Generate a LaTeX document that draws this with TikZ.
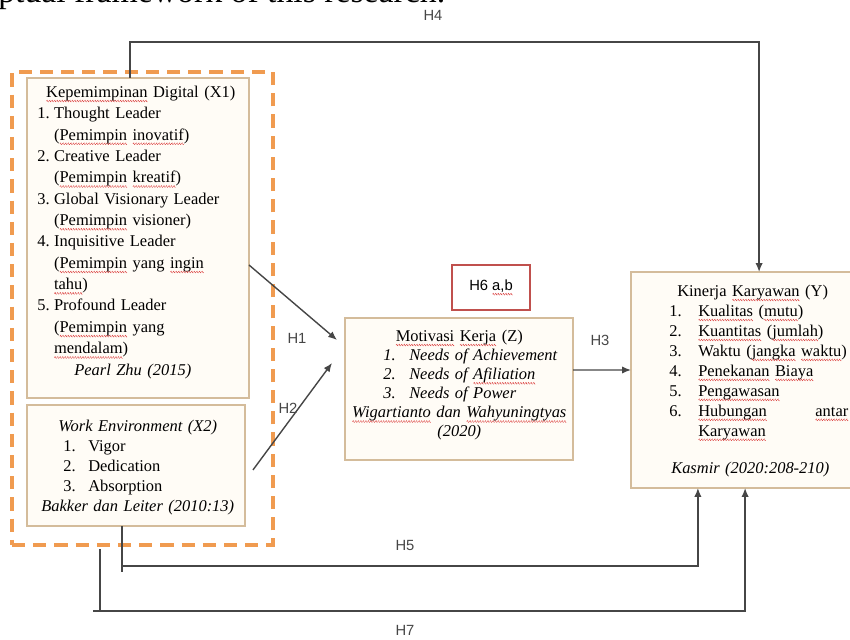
\documentclass[tikz,border=0pt]{standalone}
\usepackage{fontspec}
\usepackage{graphicx}
\setmainfont{Liberation Serif}
\setsansfont{Liberation Sans}
\usetikzlibrary{arrows.meta}
\definecolor{boxline}{RGB}{212,188,155}
\definecolor{boxfill}{RGB}{255,252,246}
\definecolor{grporange}{RGB}{240,155,80}
\definecolor{linegray}{RGB}{70,70,70}
\definecolor{hypred}{RGB}{192,80,77}
\definecolor{squig}{RGB}{215,40,40}
\newcommand\wv{\hbox{\textcolor{squig}{\rotatebox{40}{\rule{1.1pt}{0.35pt}}\kern-0.35pt\rotatebox{-40}{\rule{1.1pt}{0.35pt}}}}}
\newcommand\sq[1]{\setbox0\hbox{#1}\rlap{\copy0}\raisebox{-2.8pt}{\hbox to\wd0{\xleaders\wv\hfill}}}
\newcommand\num[2]{\makebox[#1][l]{#2}}
\tikzstyle{box}=[draw=boxline,fill=boxfill,line width=0.35mm,inner sep=0pt,outer sep=0pt,anchor=north west]
\tikzstyle{grp}=[draw=grporange,line width=0.8mm,dash pattern=on 3.3mm off 2mm,inner sep=0pt,outer sep=0pt,anchor=north west]
\tikzstyle{txt}=[inner sep=0pt,anchor=north west,align=left]
\tikzstyle{hyp}=[draw=hypred,line width=0.6mm,fill=white,minimum width=19.5mm,minimum height=11.25mm,inner sep=0pt,font=\sffamily\fontsize{10.5}{12}\selectfont]
\tikzstyle{lbl}=[font=\sffamily\fontsize{10.5}{12}\selectfont,text=linegray,inner sep=0pt]
\tikzstyle{ln}=[draw=linegray,line width=0.35mm]
\tikzstyle{arr}=[ln,-{Latex[length=2.2mm,width=1.8mm]}]
\begin{document}
\begin{tikzpicture}[x=0.25mm,y=-0.25mm]
\useasboundingbox (0,0) rectangle (850,640);
\node[anchor=base west,inner sep=0pt,font=\fontsize{24}{28}\selectfont] (cap) at (-2,3) {ptual framework of this research.};
\node[grp,minimum width=65.25mm,minimum height=118.25mm] (G) at (12,72) {};
\node[box,minimum width=55.5mm,minimum height=80mm] (X1) at (27,78) {};
\node[box,minimum width=54.5mm,minimum height=30.25mm] (X2) at (27,405) {};
\node[box,minimum width=57mm,minimum height=35.5mm] (Z) at (345,318) {};
\node[box,minimum width=55.25mm,minimum height=54mm] (Y) at (631,272) {};
\node[hyp] (H6) at (491,287.5) {H6 \sq{a,b}};
\node[txt,text width=51.75mm,font=\fontsize{11.7}{15.2}\selectfont] (X1t) at (37,85.6) {%
\makebox[\linewidth]{\sq{Kepemimpinan} Digital (X1)}\\
\num{4.2mm}{1.}Thought Leader\\
\hspace*{4.2mm}(\sq{Pemimpin} \sq{inovatif})\\
\num{4.2mm}{2.}Creative Leader\\
\hspace*{4.2mm}(\sq{Pemimpin} \sq{kreatif})\\
\num{4.2mm}{3.}Global Visionary Leader\\
\hspace*{4.2mm}(\sq{Pemimpin} visioner)\\
\num{4.2mm}{4.}Inquisitive Leader\\
\hspace*{4.2mm}(\sq{Pemimpin} yang \sq{ingin}\\
\hspace*{4.2mm}\sq{tahu})\\
\num{4.2mm}{5.}Profound Leader\\
\hspace*{4.2mm}(\sq{Pemimpin} yang\\
\hspace*{4.2mm}\sq{mendalam})\\
\makebox[\linewidth]{\textit{Pearl Zhu (2015)}\hspace*{4mm}}};
\node[txt,text width=51.25mm,font=\fontsize{11.7}{14.2}\selectfont] (X2t) at (35,419.6) {%
\makebox[\linewidth]{\textit{Work Environment (X2)}}\\
\hspace*{7mm}\num{6.25mm}{1.}Vigor\\
\hspace*{7mm}\num{6.25mm}{2.}Dedication\\
\hspace*{7mm}\num{6.25mm}{3.}Absorption\\
\makebox[\linewidth]{\textit{Bakker dan Leiter (2010:13)}}};
\node[txt,text width=53.5mm,font=\fontsize{11.7}{13.6}\selectfont] (Zt) at (352,329.6) {%
\makebox[\linewidth]{\sq{Motivasi} \sq{Kerja} (Z)}\\
\hspace*{7.75mm}\num{6.5mm}{\textit{1.}}\textit{Needs of Achievement}\\
\hspace*{7.75mm}\num{6.5mm}{\textit{2.}}\textit{Needs of \sq{Afiliation}}\\
\hspace*{7.75mm}\num{6.5mm}{\textit{3.}}\textit{Needs of Power}\\
\makebox[\linewidth]{\textit{\sq{Wigartianto} dan \sq{Wahyuningtyas}}}\\
\makebox[\linewidth]{\textit{(2020)}}};
\node[txt,text width=44.75mm,font=\fontsize{11.7}{14.2}\selectfont] (Yt) at (669,284.6) {%
\hspace*{2mm}Kinerja \sq{Karyawan} (Y)\\
\num{7.25mm}{1.}\sq{Kualitas} (\sq{mutu})\\
\num{7.25mm}{2.}\sq{Kuantitas} (\sq{jumlah})\\
\num{7.25mm}{3.}Waktu (\sq{jangka} \sq{waktu})\\
\num{7.25mm}{4.}\sq{Penekanan} \sq{Biaya}\\
\num{7.25mm}{5.}\sq{Pengawasan}\\
\num{7.25mm}{6.}\makebox[37.5mm][l]{\sq{Hubungan}\hfill\sq{antar}}\\
\hspace*{7.25mm}\sq{Karyawan}\\[4.5mm]
\hspace*{0.5mm}\textit{Kasmir (2020:208-210)}};
\node[lbl] (h4) at (433,15) {H4};
\node[lbl] (h1) at (297,338) {H1};
\node[lbl] (h2) at (288,408) {H2};
\node[lbl] (h3) at (600,340) {H3};
\node[lbl] (h5) at (405,545) {H5};
\node[lbl] (h7) at (405,630) {H7};
\draw[arr] ([xshift=-2mm]X1.north) -- ++(0,-36) -| ([xshift=4.4mm]Y.north);
\draw[arr] ([yshift=-6.75mm]X1.east) -- ([xshift=-2mm,yshift=12.25mm]Z.west);
\draw[arr] ([xshift=2mm,yshift=-1.1mm]X2.east) -- ([xshift=-3.25mm,yshift=6.5mm]Z.west);
\draw[arr] ([yshift=4.75mm]Z.east) -- ([yshift=2.5mm]Y.west);
\draw[ln] ([xshift=-3.5mm]X2.south) -- ++(0,46);
\draw[arr] ([xshift=-3.5mm]X2.south) ++(0,40) -| ([xshift=-10.9mm]Y.south);
\draw[ln] ([xshift=-10.6mm,yshift=-1mm]G.south) -- ++(0,62) -- ++(-7,0);
\draw[arr] ([xshift=-10.6mm,yshift=-1mm]G.south) ++(0,62) -| ([xshift=0.9mm]Y.south);
\end{tikzpicture}
\end{document}
